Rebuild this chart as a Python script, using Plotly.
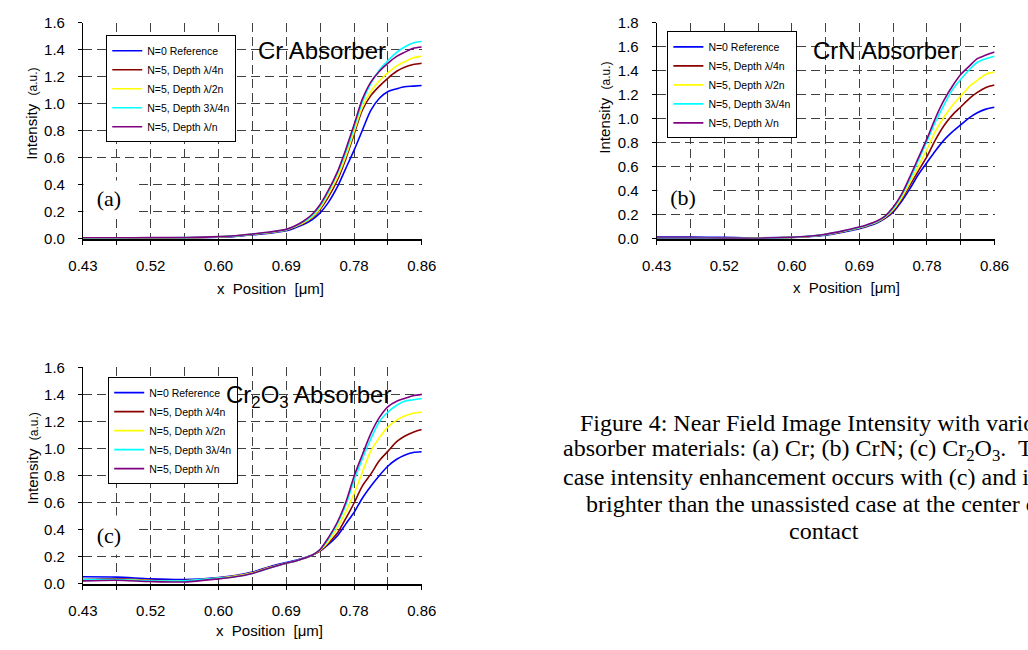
import plotly.graph_objects as go

# ---------------- data ----------------
x_pos = [0.432, 0.475, 0.518, 0.562, 0.605, 0.626, 0.648, 0.670, 0.691, 0.702, 0.713, 0.724, 0.734,
         0.745, 0.756, 0.767, 0.778, 0.788, 0.799, 0.810, 0.821, 0.832, 0.842, 0.853, 0.864]

series_names = ["N=0 Reference", "N=5, Depth \u03bb/4n", "N=5, Depth \u03bb/2n",
                "N=5, Depth 3\u03bb/4n", "N=5, Depth \u03bb/n"]
series_colors = ["#0000FF", "#8B0000", "#FFFF00", "#00FFFF", "#800080"]

# (a) Cr absorber
a_ref = [0.005, 0.005, 0.006, 0.007, 0.012, 0.018, 0.030, 0.042, 0.060, 0.080, 0.105, 0.140, 0.190,
         0.270, 0.380, 0.520, 0.660, 0.800, 0.950, 1.040, 1.090, 1.110, 1.125, 1.130, 1.135]
a_q = [0.006, 0.006, 0.007, 0.008, 0.014, 0.020, 0.033, 0.046, 0.065, 0.088, 0.115, 0.155, 0.215,
       0.310, 0.430, 0.590, 0.780, 0.950, 1.060, 1.130, 1.190, 1.240, 1.270, 1.290, 1.300]
a_h = [0.004, 0.005, 0.007, 0.008, 0.014, 0.021, 0.034, 0.047, 0.066, 0.090, 0.118, 0.160, 0.225,
       0.330, 0.450, 0.610, 0.800, 0.970, 1.090, 1.170, 1.230, 1.280, 1.310, 1.340, 1.350]
a_3q = [0.007, 0.007, 0.008, 0.009, 0.015, 0.022, 0.035, 0.049, 0.068, 0.092, 0.125, 0.170, 0.240,
        0.350, 0.480, 0.640, 0.830, 1.010, 1.150, 1.250, 1.320, 1.380, 1.420, 1.450, 1.460]
a_f = [0.008, 0.008, 0.009, 0.010, 0.016, 0.023, 0.036, 0.050, 0.070, 0.095, 0.130, 0.180, 0.250,
       0.360, 0.490, 0.660, 0.850, 1.030, 1.160, 1.240, 1.300, 1.350, 1.380, 1.410, 1.420]

# (b) CrN absorber
b_ref = [0.015, 0.015, 0.012, 0.008, 0.012, 0.018, 0.030, 0.055, 0.085, 0.105, 0.130, 0.170, 0.220,
         0.310, 0.420, 0.540, 0.640, 0.730, 0.820, 0.890, 0.950, 1.010, 1.050, 1.080, 1.095]
b_q = [0.010, 0.010, 0.008, 0.006, 0.012, 0.020, 0.035, 0.060, 0.090, 0.110, 0.135, 0.175, 0.230,
       0.330, 0.450, 0.570, 0.690, 0.820, 0.940, 1.030, 1.100, 1.170, 1.220, 1.260, 1.280]
b_h = [0.008, 0.008, 0.007, 0.006, 0.012, 0.020, 0.036, 0.062, 0.092, 0.113, 0.138, 0.180, 0.240,
       0.340, 0.470, 0.610, 0.750, 0.890, 1.010, 1.110, 1.190, 1.270, 1.320, 1.370, 1.390]
b_3q = [0.006, 0.006, 0.006, 0.005, 0.012, 0.021, 0.037, 0.064, 0.095, 0.116, 0.142, 0.185, 0.250,
        0.360, 0.500, 0.660, 0.820, 0.970, 1.110, 1.240, 1.330, 1.410, 1.470, 1.500, 1.520]
b_f = [0.007, 0.007, 0.006, 0.005, 0.013, 0.022, 0.038, 0.066, 0.098, 0.120, 0.147, 0.190, 0.260,
       0.370, 0.520, 0.680, 0.840, 1.000, 1.150, 1.270, 1.370, 1.440, 1.500, 1.530, 1.555]

# (c) Cr2O3 absorber
c_ref = [0.050, 0.048, 0.035, 0.030, 0.045, 0.060, 0.085, 0.125, 0.155, 0.170, 0.190, 0.210, 0.240,
         0.290, 0.350, 0.440, 0.530, 0.630, 0.720, 0.800, 0.870, 0.920, 0.950, 0.970, 0.975]
c_q = [0.030, 0.035, 0.025, 0.022, 0.040, 0.055, 0.080, 0.120, 0.150, 0.165, 0.185, 0.210, 0.240,
       0.300, 0.370, 0.480, 0.600, 0.720, 0.810, 0.910, 0.980, 1.050, 1.090, 1.120, 1.140]
c_h = [0.025, 0.030, 0.022, 0.020, 0.040, 0.055, 0.080, 0.118, 0.150, 0.165, 0.185, 0.210, 0.245,
       0.310, 0.410, 0.530, 0.670, 0.820, 0.980, 1.080, 1.160, 1.210, 1.240, 1.260, 1.270]
c_3q = [0.030, 0.030, 0.020, 0.020, 0.040, 0.050, 0.075, 0.115, 0.150, 0.165, 0.185, 0.210, 0.250,
        0.330, 0.440, 0.580, 0.770, 0.920, 1.070, 1.200, 1.270, 1.320, 1.350, 1.360, 1.370]
c_f = [0.020, 0.025, 0.015, 0.012, 0.035, 0.050, 0.075, 0.115, 0.150, 0.165, 0.185, 0.210, 0.250,
       0.340, 0.450, 0.600, 0.800, 0.950, 1.110, 1.230, 1.310, 1.350, 1.370, 1.390, 1.400]

panel_titles = ["Cr Absorber", "CrN Absorber", "Cr<sub>2</sub>O<sub>3</sub> Absorber"]
panel_letters = ["(a)", "(b)", "(c)"]
y_max = [1.6, 1.8, 1.6]
caption_lines = [
    "Figure 4: Near Field Image Intensity with various",
    "absorber materials: (a) Cr; (b) CrN; (c) Cr<sub>2</sub>O<sub>3</sub>.\u00a0 The best",
    "case intensity enhancement occurs with (c) and is",
    "brighter than the unassisted case at the center of the",
    "contact",
]

panels = [[a_ref, a_q, a_h, a_3q, a_f], [b_ref, b_q, b_h, b_3q, b_f], [c_ref, c_q, c_h, c_3q, c_f]]

# ---------------- layout geometry (pixels) ----------------
W, H = 1028, 650
def px(x):
    return x / W
def py(y):
    return 1 - y / H

# plot areas: (left, right, top, bottom) in pixels
areas = [(70, 419, 14, 236), (661, 1009, 14, 236), (70, 419, 368, 590)]

fig = go.Figure()
legend_names = ["legend", "legend2", "legend3"]
for p, series in enumerate(panels):
    suffix = "" if p == 0 else str(p + 1)
    for name, color, ys in zip(series_names, series_colors, series):
        fig.add_trace(go.Scatter(
            x=x_pos, y=ys, mode="lines", name=name,
            line=dict(color=color, width=1.6, shape="spline", smoothing=0.8),
            xaxis="x" + suffix, yaxis="y" + suffix,
            legend=legend_names[p], showlegend=True,
        ))

grid_col = "#404040"
dash = "9px,5px"
layout = dict(
    width=W, height=H, margin=dict(l=0, r=0, t=0, b=0),
    paper_bgcolor="white", plot_bgcolor="white",
    font=dict(family="Arial, Liberation Sans, sans-serif", color="black"),
)

legend_pos = [(94, 27), (672, 23), (96, 378)]
for p in range(3):
    l, r, t, b = areas[p]
    suffix = "" if p == 0 else str(p + 1)
    layout["xaxis" + suffix] = dict(
        domain=[px(l), px(r)], anchor="y" + suffix, range=[0.432, 0.864],
        tick0=0.432, dtick=0.0864, tickformat=".2f",
        showline=True, linecolor="black", linewidth=2,
        ticks="outside", ticklen=4, tickcolor="black", tickwidth=1,
        tickfont=dict(size=15), ticklabelstandoff=8,
        showgrid=True, gridcolor=grid_col, griddash=dash, gridwidth=1,
        minor=dict(dtick=0.0432, showgrid=True, gridcolor=grid_col, griddash=dash,
                   ticks="outside", ticklen=4, tickcolor="black"),
        zeroline=False, fixedrange=True,
    )
    layout["yaxis" + suffix] = dict(
        domain=[py(b), py(t)], anchor="x" + suffix, range=[0, y_max[p]],
        dtick=0.2, tickformat=".1f",
        showline=True, linecolor="black", linewidth=1,
        ticks="outside", ticklen=4, tickcolor="black",
        tickfont=dict(size=15), ticklabelstandoff=10,
        showgrid=True, gridcolor=grid_col, griddash=dash, gridwidth=1,
        zeroline=False, fixedrange=True,
    )
    lx, ly = legend_pos[p]
    layout[legend_names[p]] = dict(
        x=px(lx), y=py(ly), xanchor="left", yanchor="top",
        bgcolor="white", bordercolor="black", borderwidth=1,
        font=dict(size=10.5, family="Arial, Liberation Sans, sans-serif"),
        tracegroupgap=0, itemwidth=30,
    )

fig.update_layout(**layout)

# panel titles
title_pos = [(316, 43), (897, 43), (302, 398)]
for txt, (tx, ty) in zip(panel_titles, title_pos):
    fig.add_annotation(text=txt, x=px(tx), y=py(ty), xref="paper", yref="paper",
                       showarrow=False, xanchor="center", yanchor="middle",
                       font=dict(size=24, family="Arial, Liberation Sans, sans-serif"))

# panel letters on white boxes
letter_pos = [(97, 194, 50, 34), (688, 193, 50, 32), (97, 540, 50, 38)]
for txt, (lx, ly, w, h) in zip(panel_letters, letter_pos):
    fig.add_annotation(text=txt, x=px(lx), y=py(ly), xref="paper", yref="paper",
                       showarrow=False, xanchor="center", yanchor="middle",
                       width=w, height=h, bgcolor="white", borderpad=0,
                       font=dict(size=22, family="Liberation Serif, Times New Roman, serif"))

# axis titles
xt_pos = [(263, 287), (856, 286), (262, 638)]
for tx, ty in xt_pos:
    fig.add_annotation(text="x\u00a0\u00a0Position\u00a0\u00a0[\u03bcm]", x=px(tx), y=py(ty),
                       xref="paper", yref="paper", showarrow=False,
                       xanchor="center", yanchor="middle", font=dict(size=15))
yt_pos = [(17, 108), (607, 101), (18, 461)]
for tx, ty in yt_pos:
    fig.add_annotation(text="Intensity\u00a0\u00a0<span style='font-size:12px'>(a.u.)</span>",
                       x=px(tx), y=py(ty), xref="paper", yref="paper", showarrow=False,
                       textangle=-90, xanchor="center", yanchor="middle", font=dict(size=15))

# caption
cap_pos = [(580, 425, "left"), (562, 453, "left"), (562, 481, "left"), (586, 508, "left"), (833, 536, "center")]
for txt, (cx, cy, anc) in zip(caption_lines, cap_pos):
    fig.add_annotation(text=txt, x=px(cx), y=py(cy), xref="paper", yref="paper",
                       showarrow=False, xanchor=anc, yanchor="middle", align="left",
                       font=dict(size=24, family="Liberation Serif, Times New Roman, serif"))

fig.write_html("out.html")
